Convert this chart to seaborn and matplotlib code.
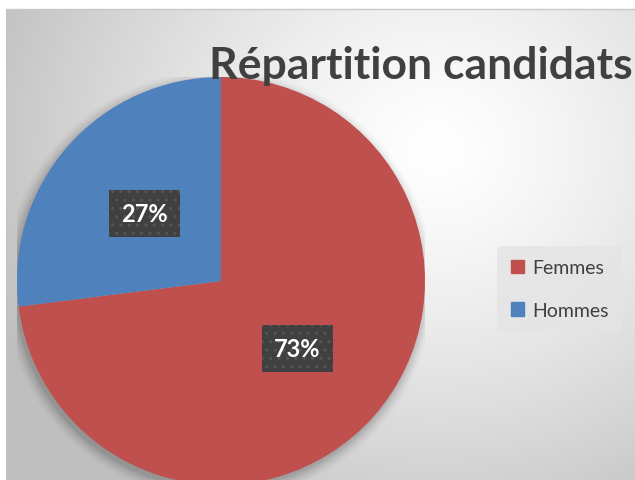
import numpy as np
import matplotlib
matplotlib.use("Agg")
import matplotlib.pyplot as plt
import matplotlib.patches as mpatches
import seaborn as sns

categories = ["Femmes", "Hommes"]
values = [73, 27]
colors = ["#c0504d", "#4f81bd"]
title = "Répartition candidats"

sns.set_theme(style="white")
plt.rcParams["font.family"] = ["Lato", "DejaVu Sans"]

W, H = 635, 481
fig = plt.figure(figsize=(W / 100, H / 100), dpi=100)
fig.patch.set_facecolor("white")

# radial gradient background of the chart area
bg = fig.add_axes([6 / W, 0, (W - 6) / W, (H - 10) / H])
yy, xx = np.mgrid[0:H - 10, 0:W - 6]
d = np.sqrt(((xx - 430) / 1.0) ** 2 + ((yy - 140) / 0.9) ** 2)
g = 1.0 - 0.25 * np.clip(d / 480, 0, 1) ** 1.3
bg.imshow(np.dstack([g, g, g]), aspect="auto", extent=[0, 1, 0, 1], origin="upper")
bg.set_axis_off()
fig.add_artist(plt.Line2D([6 / W, 1], [1 - 10 / H, 1 - 10 / H], color="#c8c8c8", lw=1))

# pie
cx, cy, r = 221, H - 282, 204
ax = fig.add_axes([(cx - r) / W, (cy - r) / H, 2 * r / W, 2 * r / H])
ax.set_axis_off()

# soft shadow
for i, a in enumerate(np.linspace(0.05, 0.01, 8)):
    ax.add_patch(mpatches.Circle((-0.012, -0.02), 1.0 + i * 0.008, color="black",
                                 alpha=a, lw=0, zorder=0))

wedges, texts, autotexts = ax.pie(
    values, colors=colors, startangle=90, counterclock=False,
    autopct="%1.0f%%", pctdistance=0.5, radius=1,
    wedgeprops=dict(linewidth=0), textprops=dict(color="white"))
for w in wedges:
    w.set_zorder(2)
for t in autotexts:
    t.set_fontsize(17)
    t.set_fontweight("bold")
    t.set_zorder(5)
    t.set_bbox(dict(boxstyle="square,pad=0.5", facecolor="#404040",
                    edgecolor="#555555", hatch="..", linewidth=0))
ax.set_xlim(-1.0, 1.0)
ax.set_ylim(-1.0, 1.0)

fig.text(0.997, 1 - 66 / H, title, ha="right", va="center", fontsize=32,
         fontweight="bold", color="#404040")

handles = [mpatches.Patch(color=c, label=l) for c, l in zip(colors, categories)]
leg = fig.legend(handles=handles, loc="center left", bbox_to_anchor=(497 / W, 1 - 290 / H),
                 fontsize=14, frameon=True, handlelength=0.7, handleheight=0.7,
                 labelspacing=1.3, handletextpad=0.4, borderpad=0.7, borderaxespad=0,
                 labelcolor="#404040")
leg.get_frame().set_facecolor("#e4e4e4")
leg.get_frame().set_edgecolor("none")
leg.get_frame().set_alpha(0.8)

fig.savefig("out.png", dpi=100)
